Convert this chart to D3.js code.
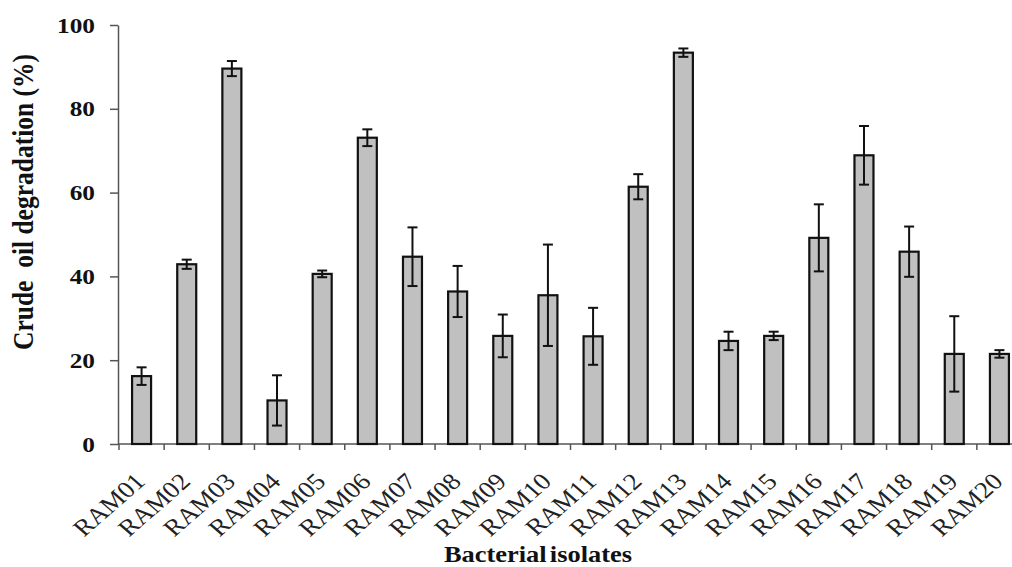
<!DOCTYPE html>
<html><head><meta charset="utf-8">
<script src="https://cdn.jsdelivr.net/npm/d3@7/dist/d3.min.js"></script>
<style>body{margin:0;background:#fff}svg{display:block}</style>
</head><body>
<svg id="c" width="1012" height="567"></svg>
<script>
const categories = ["RAM01","RAM02","RAM03","RAM04","RAM05","RAM06","RAM07","RAM08","RAM09","RAM10","RAM11","RAM12","RAM13","RAM14","RAM15","RAM16","RAM17","RAM18","RAM19","RAM20"];
const values = [16.2,42.9,89.6,10.4,40.6,73.1,44.7,36.4,25.8,35.5,25.7,61.4,93.4,24.6,25.8,49.2,68.9,45.9,21.5,21.5];
const errors = [2.1,1.1,1.8,6.0,0.8,2.0,7.0,6.1,5.1,12.1,6.8,3.0,1.0,2.2,1.0,8.0,7.0,6.0,9.0,0.9];
const yTicks = [0,20,40,60,80,100];

const svg = d3.select("#c");
const serif = "'Liberation Serif','Times New Roman',serif";
const SX = 1.15; // horizontal stretch of the original figure's text
const x = d3.scaleBand().domain(categories).range([119, 1022]).padding(0);
const y = d3.scaleLinear().domain([0,100]).range([444, 25]);
const bw = 19;

// y axis
const ya = svg.append("g").attr("transform","translate(118,0)")
  .call(d3.axisLeft(y).tickValues(yTicks).tickSize(8).tickSizeOuter(0));
ya.select(".domain").attr("stroke","#555").attr("stroke-width",1.5);
ya.selectAll(".tick line").attr("stroke","#555").attr("stroke-width",1.5);
ya.selectAll(".tick text").attr("x",null).attr("transform",`translate(-23,0) scale(${SX},1)`)
  .attr("font-family",serif).attr("font-weight","bold")
  .attr("font-size",22).attr("fill","#111");

// x axis line and boundary ticks
const xa = svg.append("g").attr("transform","translate(0,444)");
xa.append("line").attr("x1",118).attr("x2",1012).attr("stroke","#555").attr("stroke-width",1.5);
const bounds = categories.map(c => x(c));
xa.selectAll("line.tk").data(bounds).join("line").attr("class","tk")
  .attr("x1",d=>d).attr("x2",d=>d).attr("y1",0).attr("y2",6)
  .attr("stroke","#555").attr("stroke-width",1.5);
xa.selectAll("text.lb").data(categories).join("text").attr("class","lb")
  .attr("transform",d=>`translate(${x(d)+x.bandwidth()/2+5},39) scale(${SX},1) rotate(-45)`)
  .attr("text-anchor","end")
  .attr("font-family",serif).attr("font-size",23.5).attr("fill","#222").text(d=>d);

// bars
const data = categories.map((c,i)=>({c, v:values[i], e:errors[i]}));
svg.selectAll("rect.bar").data(data).join("rect").attr("class","bar")
  .attr("x",d=>x(d.c)+x.bandwidth()/2-bw/2).attr("width",bw)
  .attr("y",d=>y(d.v)).attr("height",d=>y(0)-y(d.v))
  .attr("fill","#c0c0c0").attr("stroke","#111").attr("stroke-width",2.2);

// error bars
const eg = svg.append("g").attr("stroke","#111").attr("stroke-width",2);
data.forEach(d=>{
  const cx = x(d.c)+x.bandwidth()/2;
  eg.append("line").attr("x1",cx).attr("x2",cx).attr("y1",y(d.v+d.e)).attr("y2",y(d.v-d.e));
  eg.append("line").attr("x1",cx-5).attr("x2",cx+5).attr("y1",y(d.v+d.e)).attr("y2",y(d.v+d.e));
  eg.append("line").attr("x1",cx-5).attr("x2",cx+5).attr("y1",y(d.v-d.e)).attr("y2",y(d.v-d.e));
});

// axis titles
svg.append("text").attr("transform",`translate(33,202) scale(${SX},1) rotate(-90)`)
  .attr("text-anchor","middle").attr("font-family",serif).attr("font-weight","bold")
  .attr("font-size",25.5).attr("fill","#111").attr("xml:space","preserve").text("Crude  oil degradation (%)");
svg.append("text").attr("transform",`translate(538,562) scale(${SX},1)`).attr("text-anchor","middle")
  .attr("font-family",serif).attr("font-weight","bold").attr("font-size",23).attr("fill","#111")
  .attr("word-spacing","-3").text("Bacterial isolates");
</script>
</body></html>
